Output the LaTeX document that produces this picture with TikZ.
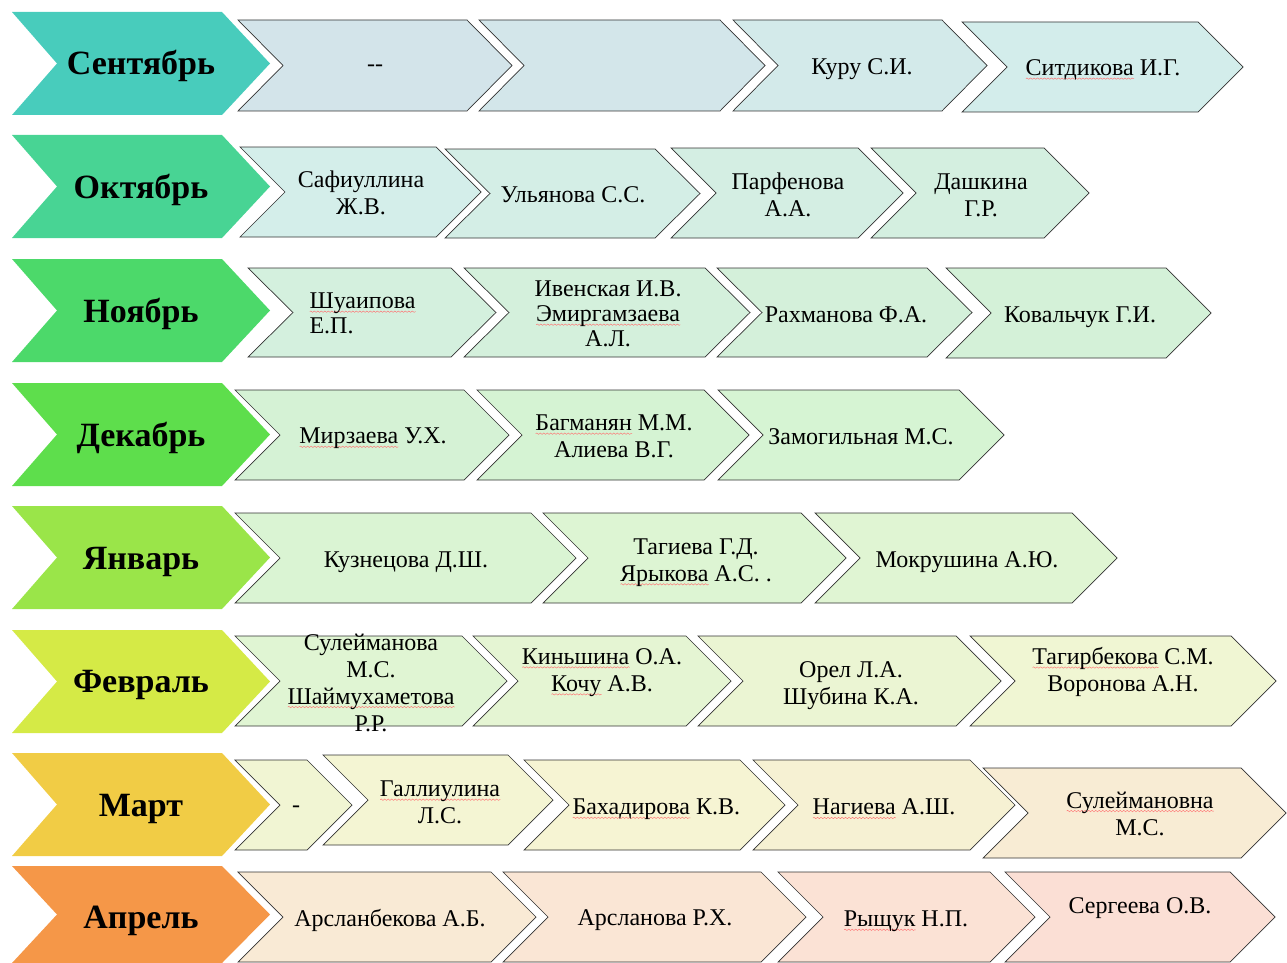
\documentclass[tikz,border=0pt]{standalone}
\usepackage{fontspec}
\setmainfont{Liberation Serif}
\usetikzlibrary{decorations.pathmorphing}

\definecolor{sepC}{HTML}{48CCBC}
\definecolor{octC}{HTML}{48D494}
\definecolor{novC}{HTML}{4CD96A}
\definecolor{decC}{HTML}{5EDE4C}
\definecolor{janC}{HTML}{9AE549}
\definecolor{febC}{HTML}{D5EA46}
\definecolor{marC}{HTML}{F1CC45}
\definecolor{aprC}{HTML}{F59748}

\tikzset{spellwave/.style={draw=red!55, line width=0.45pt, decorate,
    decoration={snake, amplitude=0.7pt, segment length=3.5pt}}}

% red spell-check wave under a word
\newsavebox{\wordbox}
\newcommand{\redwave}[1]{\sbox{\wordbox}{#1}\rlap{\tikz[baseline=0pt]\path[spellwave] (0pt,-3pt) -- (\wd\wordbox,-3pt);}\usebox{\wordbox}}

% light chevron: left, top, tip, bottom, fill
\newcommand{\chev}[5]{%
  \definecolor{cellfill}{HTML}{#5}%
  \path[cell, fill=cellfill] (#1,#2) -- ({#3-45},#2) -- (#3,{(#2+#4)/2}) -- ({#3-45},#4) -- (#1,#4) -- ({#1+45},{(#2+#4)/2}) -- cycle;}
% month chevron: top, bottom, fill
\newcommand{\bigchev}[3]{%
  \fill[#3] (12,#1) -- (222,#1) -- (270,{(#1+#2)/2}) -- (222,#2) -- (12,#2) -- (57,{(#1+#2)/2}) -- cycle;}

\begin{document}
\begin{tikzpicture}[x=1pt, y=-1pt, cell/.style={draw=black!80, line width=0.7pt}]
   \useasboundingbox (0,0) rectangle (1287,963);

   % months
   \bigchev{12}{115}{sepC}
   \bigchev{135}{238}{octC}
   \bigchev{259}{362}{novC}
   \bigchev{383}{486}{decC}
   \bigchev{506}{609}{janC}
   \bigchev{630}{733}{febC}
   \bigchev{753}{856}{marC}
   \bigchev{866}{963}{aprC}

   % September
   \chev{238}{20}{512}{111}{D3E4EA}
   \chev{479}{20}{765}{111}{D3E6EA}
   \chev{733}{20}{987}{111}{D3EAEA}
   \chev{962}{22}{1243}{112}{D3EDEB}
   % October
   \chev{240}{147}{481}{237}{D4EEEA}
   \chev{445}{149}{700}{238}{D4EEE6}
   \chev{671}{148}{903}{238}{D4EEE3}
   \chev{871}{148}{1089}{238}{D4EFE0}
   % November
   \chev{248}{268}{496}{357}{D4F0DE}
   \chev{464}{268}{750}{357}{D4F0DC}
   \chev{717}{268}{972}{357}{D4F0DA}
   \chev{946}{268}{1211}{358}{D4F1D8}
   % December
   \chev{235}{390}{509}{480}{D5F2D5}
   \chev{477}{390}{749}{480}{D5F3D3}
   \chev{718}{390}{1004}{480}{D6F4D3}
   % January
   \chev{235}{513}{576}{603}{DAF4D3}
   \chev{543}{513}{846}{603}{DDF5D3}
   \chev{815}{513}{1117}{603}{E0F5D3}
   % February
   \chev{235}{636}{507}{726}{E0F5D3}
   \chev{473}{636}{731}{726}{E5F5D3}
   \chev{698}{636}{1001}{726}{EBF5D3}
   \chev{970}{636}{1276}{726}{F0F6D3}
   % March
   \chev{235}{760}{352}{850}{F1F5D3}
   \chev{323}{755}{553}{845}{F4F5D3}
   \chev{524}{760}{785}{850}{F6F4D3}
   \chev{753}{760}{1015}{850}{F6F1D3}
   \chev{983}{768}{1286}{858}{F8ECD4}
   % April
   \chev{238}{872}{536}{962}{F9EAD5}
   \chev{503}{872}{806}{962}{FAE6D5}
   \chev{778}{872}{1035}{962}{FBE2D5}
   \chev{1005}{872}{1275}{962}{FBDFD5}

   \begin{scope}[every node/.style={yshift=-3pt, font=\fontsize{34}{38}\selectfont\bfseries}]
    \node (sep) at (141,63) {Сентябрь};
    \node (oct) at (141,187) {Октябрь};
    \node (nov) at (141,311) {Ноябрь};
    \node (dec) at (141,435) {Декабрь};
    \node (jan) at (141,559) {Январь};
    \node (feb) at (141,682) {Февраль};
    \node (mar) at (141,806) {Март};
    \node (apr) at (141,918) {Апрель};
   \end{scope}

   \begin{scope}[every node/.style={yshift=-2.5pt, align=center, font=\fontsize{24}{27}\selectfont}]
    \node (sep1) at (375,66) {-{}-};
    \node (sep3) at (862,67) {Куру С.И.};
    \node (sep4) at (1103,67.5) {\redwave{Ситдикова} И.Г.};

    \node (oct1) at (361,190.5) {Сафиуллина\\Ж.В.};
    \node (oct2) at (573,192.5) {Ульянова С.С.};
    \node (oct3) at (788,192.5) {Парфенова\\А.А.};
    \node (oct4) at (981,192.5) {Дашкина\\Г.Р.};

    \node[anchor=west, align=left, font=\fontsize{24}{25}\selectfont] (nov1) at (306,311) {\redwave{Шуаипова}\\Е.П.};
    \node[font=\fontsize{24}{25}\selectfont] (nov2) at (608,311.5) {Ивенская И.В.\\\redwave{Эмиргамзаева}\\А.Л.};
    \node (nov3) at (846,312.5) {Рахманова Ф.А.};
    \node (nov4) at (1080,315) {Ковальчук Г.И.};

    \node (dec1) at (373,436) {\redwave{Мирзаева} У.Х.};
    \node (dec2) at (614,434) {\redwave{Багманян} М.М.\\Алиева В.Г.};
    \node (dec3) at (861,434.5) {Замогильная М.С.};

    \node (jan1) at (406,560) {Кузнецова Д.Ш.};
    \node (jan2) at (696,560) {Тагиева Г.Д.\\\redwave{Ярыкова} А.С. .};
    \node (jan3) at (967,560) {Мокрушина А.Ю.};

    \node (feb1) at (371,680) {Сулейманова\\М.С.\\\redwave{Шаймухаметова}\\Р.Р.};
    \node (feb2) at (602,670) {\redwave{Киньшина} О.А.\\\redwave{Кочу} А.В.};
    \node (feb3) at (851,683) {Орел Л.А.\\Шубина К.А.};
    \node (feb4) at (1123,669.5) {\redwave{Тагирбекова} С.М.\\Воронова А.Н.};

    \node (mar1) at (296,807) {-};
    \node (mar2) at (440,800) {\redwave{Галлиулина}\\Л.С.};
    \node[anchor=west] (mar3) at (569,807) {\redwave{Бахадирова} К.В.};
    \node (mar4) at (884,806.5) {\redwave{Нагиева} А.Ш.};
    \node (mar5) at (1140,811) {\redwave{Сулеймановна}\\М.С.};

    \node (apr1) at (390,918) {Арсланбекова А.Б.};
    \node (apr2) at (655,918) {Арсланова Р.Х.};
    \node (apr3) at (906,919) {\redwave{Рыщук} Н.П.};
    \node (apr4) at (1140,906) {Сергеева О.В.};
   \end{scope}
\end{tikzpicture}
\end{document}
